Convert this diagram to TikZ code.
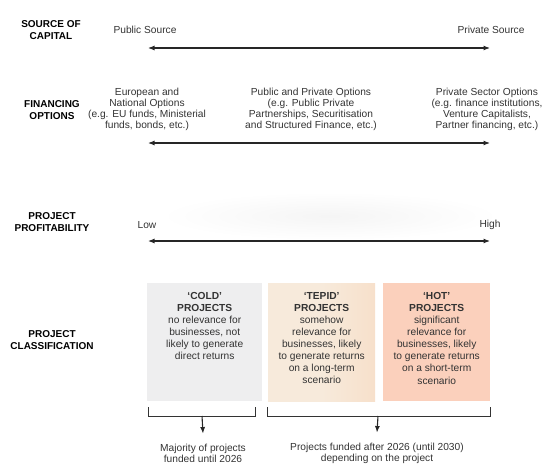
\documentclass[tikz,border=0pt]{standalone}
\usepackage{fontspec}
\setmainfont{Liberation Sans}
\usetikzlibrary{arrows.meta}

\definecolor{coldgrey}{HTML}{EEEEEF}
\definecolor{tepidbeige}{HTML}{F7EADB}
\definecolor{tepidedge}{HTML}{F7E0CB}
\definecolor{hotsalmon}{HTML}{FBD0BC}
\definecolor{inkgrey}{HTML}{333333}

\tikzset{
  rowlabel/.style={font=\bfseries\fontsize{10}{11.5}\selectfont, align=center, inner sep=0pt, text=black},
  txt/.style={font=\fontsize{10.2}{11}\selectfont, align=center, inner sep=0pt, text=inkgrey},
  boxtxt/.style={font=\fontsize{10.2}{12.1}\selectfont, align=center, inner sep=0pt, text=inkgrey},
  classbox/.style={draw=none, minimum height=118pt, inner sep=0pt, anchor=north west},
  scalearrow/.style={{Latex[length=6.5pt,width=5pt]}-{Latex[length=6.5pt,width=5pt]}, line width=1.1pt, black!85},
  downarrow/.style={-{Latex[length=6.5pt,width=5pt]}, line width=1.1pt, black!85},
  bracket/.style={line width=1pt, black!80}
}

\begin{document}
\begin{tikzpicture}[x=1pt,y=-1pt]
  \useasboundingbox (0,0) rectangle (544,466);

  % row labels
  \node[rowlabel] (capital)   at (51,30)  {SOURCE OF\\CAPITAL};
  \node[rowlabel] (financing) at (52,110) {FINANCING\\OPTIONS};
  \node[rowlabel] (profit)    at (52,222) {PROJECT\\PROFITABILITY};
  \node[rowlabel] (classif)   at (52,340) {PROJECT\\CLASSIFICATION};

  % source of capital
  \node[txt] (public)  at (145,30) {Public Source};
  \node[txt] (private) at (491,30) {Private Source};
  \coordinate (capL) at (148,48);
  \coordinate (capR) at (490,48);
  \draw[scalearrow] (capL) -- (capR);

  % financing options
  \node[txt] (euro)    at (147,109) {European and\\National Options\\(e.g. EU funds, Ministerial\\funds, bonds, etc.)};
  \node[txt] (ppp)     at (311,109) {Public and Private Options\\(e.g. Public Private\\Partnerships, Securitisation\\and Structured Finance, etc.)};
  \node[txt] (privsec) at (487,109) {Private Sector Options\\(e.g. finance institutions,\\Venture Capitalists,\\Partner financing, etc.)};
  \coordinate (finL) at (148,143);
  \coordinate (finR) at (490,143);
  \draw[scalearrow] (finL) -- (finR);

  % project profitability
  \shade[inner color=black!4, outer color=white] (330,216) ellipse (170 and 24);
  \node[txt] (low)  at (147,225) {Low};
  \node[txt] (high) at (490,225) {High};
  \coordinate (proL) at (148,241);
  \coordinate (proR) at (490,241);
  \draw[scalearrow] (proL) -- (proR);

  % project classification
  \node[classbox, fill=coldgrey,   minimum width=115pt] (cold)  at (147,283) {};
  \node[classbox, left color=tepidbeige, right color=tepidedge, middle color=tepidbeige,
        minimum width=107pt] (tepid) at (268,283) {};
  \node[classbox, fill=hotsalmon,  minimum width=107pt] (hot)   at (383,283) {};
  \node[boxtxt, anchor=north] (coldtxt)  at ([yshift=-9pt]cold.north)
    {\textbf{‘COLD’}\\\textbf{PROJECTS}\\no relevance for\\businesses, not\\likely to generate\\direct returns};
  \node[boxtxt, anchor=north] (tepidtxt) at ([yshift=-9pt]tepid.north)
    {\textbf{‘TEPID’}\\\textbf{PROJECTS}\\somehow\\relevance for\\businesses, likely\\to generate returns\\on a long-term\\scenario};
  \node[boxtxt, anchor=north] (hottxt)   at ([yshift=-9pt]hot.north)
    {\textbf{‘HOT’}\\\textbf{PROJECTS}\\significant\\relevance for\\businesses, likely\\to generate returns\\on a short-term\\scenario};

  % brackets and outcomes
  \draw[bracket] (148,407) |- (255,416) -- (255,407);
  \draw[bracket] (267,407) |- (490,416) -- (490,407);
  \coordinate (earlymid) at (202,416);
  \coordinate (latemid)  at (378,416);
  \node[txt] (majority) at (203,453) {Majority of projects\\funded until 2026};
  \node[txt] (after)    at (377,453) {Projects funded after 2026 (until 2030)\\depending on the project};
  \draw[downarrow] (earlymid) -- ([yshift=10pt]majority.north);
  \draw[downarrow] (latemid)  -- ([yshift=10pt]after.north);
\end{tikzpicture}
\end{document}
